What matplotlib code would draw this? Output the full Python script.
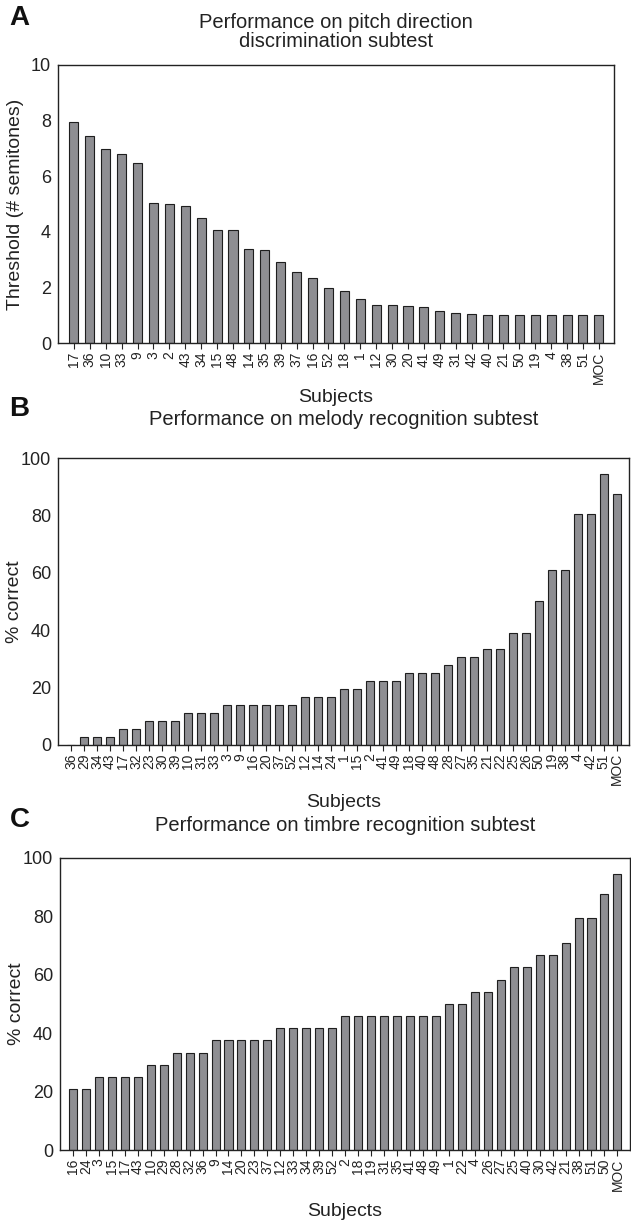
import matplotlib
matplotlib.use("Agg")
import matplotlib.pyplot as plt
import numpy as np

plt.rcParams["font.family"] = ["Liberation Sans", "DejaVu Sans"]

# Panel A: pitch direction discrimination threshold (semitones)
pitch_subjects = ["17", "36", "10", "33", "9", "3", "2", "43", "34", "15", "48", "14",
                  "35", "39", "37", "16", "52", "18", "1", "12", "30", "20", "41", "49",
                  "31", "42", "40", "21", "50", "19", "4", "38", "51", "MOC"]
pitch_values = [7.96, 7.43, 6.97, 6.78, 6.47, 5.02, 4.99, 4.93, 4.48, 4.05, 4.05, 3.37,
                3.33, 2.92, 2.54, 2.34, 1.99, 1.86, 1.59, 1.37, 1.37, 1.32, 1.28, 1.16,
                1.09, 1.05, 1.0, 1.0, 1.0, 1.0, 1.0, 1.0, 1.0, 1.0]

# Panel B: melody recognition (% correct)
melody_subjects = ["36", "29", "34", "43", "17", "32", "23", "30", "39", "10", "31", "33",
                   "3", "9", "16", "20", "37", "52", "12", "14", "24", "1", "15", "2",
                   "41", "49", "18", "40", "48", "28", "27", "35", "21", "22", "25", "26",
                   "50", "19", "38", "4", "42", "51", "MOC"]
melody_values = [0, 2.8, 2.8, 2.8, 5.6, 5.6, 8.3, 8.3, 8.3, 11.1, 11.1, 11.1,
                 13.9, 13.9, 13.9, 13.9, 13.9, 13.9, 16.7, 16.7, 16.7, 19.4, 19.4, 22.2,
                 22.2, 22.2, 25.0, 25.0, 25.0, 27.8, 30.6, 30.6, 33.3, 33.3, 38.9, 38.9,
                 50.0, 61.1, 61.1, 80.6, 80.6, 94.4, 87.5]

# Panel C: timbre recognition (% correct)
timbre_subjects = ["16", "24", "3", "15", "17", "43", "10", "29", "28", "32", "36", "9",
                   "14", "20", "23", "37", "12", "33", "34", "39", "52", "2", "18", "19",
                   "31", "35", "41", "48", "49", "1", "22", "4", "26", "27", "25", "40",
                   "30", "42", "21", "38", "51", "50", "MOC"]
timbre_values = [20.8, 20.8, 25.0, 25.0, 25.0, 25.0, 29.2, 29.2, 33.3, 33.3, 33.3, 37.5,
                 37.5, 37.5, 37.5, 37.5, 41.7, 41.7, 41.7, 41.7, 41.7, 45.8, 45.8, 45.8,
                 45.8, 45.8, 45.8, 45.8, 45.8, 50.0, 50.0, 54.2, 54.2, 58.3, 62.5, 62.5,
                 66.7, 66.7, 70.8, 79.2, 79.2, 87.5, 94.4]

bar_color = "#8e8e92"
edge_color = "#1e1e1e"
text_color = "#222222"

fig = plt.figure(figsize=(6.31, 12.25), dpi=100)

# (axes rect, subjects, values, ymax, yticks, ylabel, title, title y, letter, letter y,
#  bar width, xlabel pad)
panels = [
    ([0.092, 0.720, 0.881, 0.227], pitch_subjects, pitch_values, 10, [0, 2, 4, 6, 8, 10],
     "Threshold (# semitones)", "Performance on pitch direction\ndiscrimination subtest", 1.119,
     "A", 1 - 18 / 1225, 0.57, 4),
    ([0.092, 0.392, 0.905, 0.234], melody_subjects, melody_values, 100, [0, 20, 40, 60, 80, 100],
     "% correct", "Performance on melody recognition subtest", 1.135,
     "B", 1 - 409 / 1225, 0.62, 6),
    ([0.095, 0.061, 0.903, 0.239], timbre_subjects, timbre_values, 100, [0, 20, 40, 60, 80, 100],
     "% correct", "Performance on timbre recognition subtest", 1.109,
     "C", 1 - 820 / 1225, 0.62, 9),
]

for (rect, subjects, values, ymax, yticks, ylabel, title, title_y,
     letter, letter_y, width, xpad) in panels:
    ax = fig.add_axes(rect)
    x = np.arange(len(subjects))
    ax.bar(x, values, width=width, color=bar_color, edgecolor=edge_color, linewidth=0.8)
    ax.set_xlim(-1, len(subjects) - 0.05)
    ax.set_ylim(0, ymax)
    ax.set_yticks(yticks)
    ax.set_xticks(x)
    ax.set_xticklabels(subjects, rotation=90, fontsize=10)
    ax.tick_params(axis="x", length=4, width=0.8, direction="out", pad=2, colors=text_color)
    ax.tick_params(axis="y", length=0, pad=5, labelsize=13, colors=text_color)
    for sp in ax.spines.values():
        sp.set_linewidth(1.0)
        sp.set_color(text_color)
    ax.set_ylabel(ylabel, fontsize=14, color=text_color)
    ax.yaxis.set_label_coords(-0.062, 0.5)
    ax.set_xlabel("Subjects", fontsize=14, color=text_color, labelpad=xpad)
    ax.set_title(title, fontsize=14.5, color=text_color, y=title_y, pad=0,
                 va="center", linespacing=1.0)
    fig.text(0.015, letter_y, letter, fontsize=20, fontweight="bold",
             ha="left", va="center", color="#111111")

plt.savefig("out.png", dpi=100)
plt.close()
